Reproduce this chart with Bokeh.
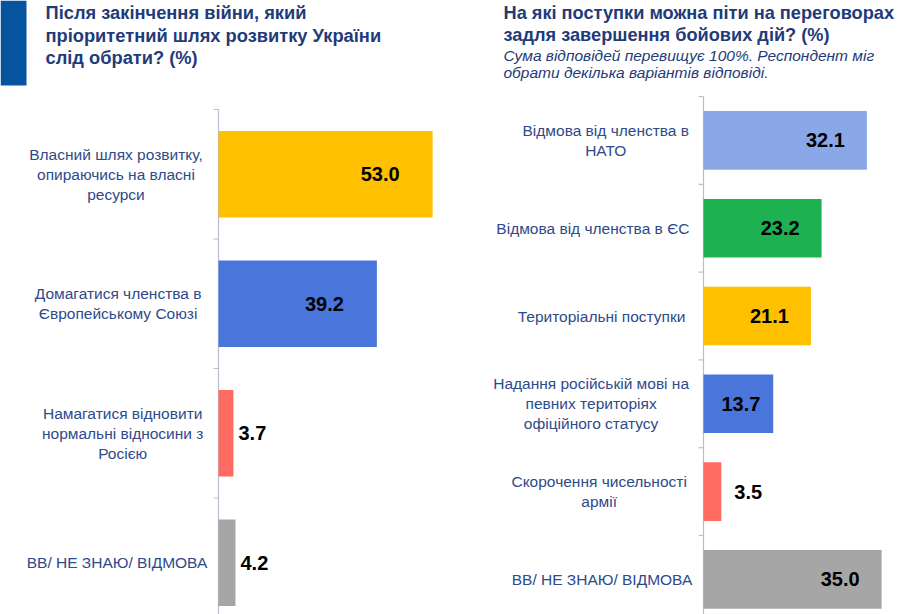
from bokeh.plotting import figure
from bokeh.layouts import column, row
from bokeh.models import Range1d, ColumnDataSource
from bokeh.embed import file_html
from bokeh.resources import INLINE
from bokeh.core.properties import value

# ---------------- data ----------------
left_title = ["Після закінчення війни, який",
              "пріоритетний шлях розвитку України",
              "слід обрати? (%)"]
left_categories = ["Власний шлях розвитку,\nопираючись на власні\nресурси",
                   "Домагатися членства в\nЄвропейському Союзі",
                   "Намагатися відновити\nнормальні відносини з\nРосією",
                   "ВВ/ НЕ ЗНАЮ/ ВІДМОВА"]
left_values = [53.0, 39.2, 3.7, 4.2]
left_colors = ["#FFC000", "#4A76DC", "#FF6A61", "#A6A6A6"]

right_title = ["На які поступки можна піти на переговорах",
               "задля завершення бойових дій? (%)"]
right_note = ["Сума відповідей перевищує 100%. Респондент міг",
              "обрати декілька варіантів відповіді."]
right_categories = ["Відмова від членства в\nНАТО",
                    "Відмова від членства в ЄС",
                    "Територіальні поступки",
                    "Надання російській мові на\nпевних територіях\nофіційного статусу",
                    "Скорочення чисельності\nармії",
                    "ВВ/ НЕ ЗНАЮ/ ВІДМОВА"]
right_values = [32.1, 23.2, 21.1, 13.7, 3.5, 35.0]
right_colors = ["#8AA8E8", "#1DB152", "#FFC000", "#4A76DC", "#FF6A61", "#A6A6A6"]

# ---------------- styles ----------------
FONT = value("Liberation Sans")
TITLE_COLOR = "#1F3B78"
LABEL_COLOR = "#2E4A8A"
AXIS_COLOR = "#B9BDD1"
LABEL_SIZE = 15.5
VALUE_SIZE = 20


def est_width(s, size):
    w = 0.0
    for ch in s:
        if ch in " ,./:;!?":
            w += 0.278
        elif ch in "()":
            w += 0.333
        elif ch == "%":
            w += 0.889
        elif ch in "іїlІ":
            w += 0.24
        elif ch.isdigit():
            w += 0.556
        elif ch.isupper():
            w += 0.69
        else:
            w += 0.55
    return w * size


def bar_chart(cats, vals, colors, width, height, axis_px, top_px,
              px_per_unit, band_px, in_gap, out_gap):
    n = len(cats)
    p = figure(width=width, height=height, output_backend="svg", toolbar_location=None,
               x_range=Range1d(-axis_px / px_per_unit, (width - axis_px) / px_per_unit),
               y_range=Range1d((height - top_px) / band_px, -top_px / band_px),
               x_axis_location=None, y_axis_location=None, min_border=0)
    p.outline_line_color = None
    p.xgrid.grid_line_color = None
    p.ygrid.grid_line_color = None

    # category axis: line and outward ticks at band boundaries
    bounds = list(range(n + 1))
    p.segment(x0=0, y0=0, x1=0, y1=n, line_color=AXIS_COLOR, line_width=1.2)
    p.segment(x0=[-5 / px_per_unit] * len(bounds), y0=bounds, x1=[0] * len(bounds),
              y1=bounds, line_color=AXIS_COLOR, line_width=1.2)

    ys = [i + 0.5 for i in range(n)]
    lab_off = [-(14 + max(est_width(l, LABEL_SIZE) for l in c.split("\n")) / 2) for c in cats]
    txt = ["%.1f" % v for v in vals]
    v_align, v_off = [], []
    for v, t in zip(vals, txt):
        bar_px = v * px_per_unit
        tw = est_width(t, VALUE_SIZE)
        if v < 5:
            v_align.append("left")
            v_off.append(out_gap)
        else:
            v_align.append("right")
            v_off.append(-min(in_gap, bar_px - tw - 18))
    src = ColumnDataSource(dict(y=ys, v=vals, color=colors, cat=cats, loff=lab_off,
                                txt=txt, valign=v_align, voff=v_off))

    p.hbar(y="y", left=0, right="v", height=0.667, fill_color="color",
           line_color=None, source=src)
    p.text(x="v", y="y", text="txt", x_offset="voff", text_align="valign",
           text_baseline="middle", text_font=FONT, text_font_style="bold",
           text_font_size="%gpx" % VALUE_SIZE, text_color="#000000", source=src)
    p.text(x=0, y="y", text="cat", x_offset="loff", source=src,
           text_align="center", text_baseline="middle", text_font=FONT,
           text_font_size="%gpx" % LABEL_SIZE, text_color=LABEL_COLOR,
           text_line_height=1.18)
    return p


# ---------------- header ----------------
HW, HH = 923, 93
header = figure(width=HW, height=HH, output_backend="svg", toolbar_location=None,
                x_range=Range1d(0, HW), y_range=Range1d(HH, 0),
                x_axis_location=None, y_axis_location=None, min_border=0)
header.outline_line_color = None
header.xgrid.grid_line_color = None
header.ygrid.grid_line_color = None
header.quad(left=0, right=26, top=0, bottom=85, fill_color="#0654A0", line_color=None)

header.text(x=[45] * len(left_title), y=[12, 34.5, 56.5], text=left_title,
            text_font=FONT, text_font_style="bold", text_font_size="18.3px",
            text_color=TITLE_COLOR, text_baseline="middle", text_align="left")
header.text(x=[503] * len(right_title), y=[12.5, 34], text=right_title,
            text_font=FONT, text_font_style="bold", text_font_size="18.2px",
            text_color=TITLE_COLOR, text_baseline="middle", text_align="left")
header.text(x=[503] * len(right_note), y=[55, 72], text=right_note,
            text_font=FONT, text_font_style="italic", text_font_size="15.5px",
            text_color=TITLE_COLOR, text_baseline="middle", text_align="left")

left = bar_chart(left_categories, left_values, left_colors, 460, 521, 218, 16,
                 4.04, 129.5, 33, 5)
right = bar_chart(right_categories, right_values, right_colors, 463, 521, 243, 3,
                  5.09, 87.8, 22, 13)

layout = column(header, row(left, right, spacing=0), spacing=0)

open("out.html", "w").write(file_html(layout, INLINE))
